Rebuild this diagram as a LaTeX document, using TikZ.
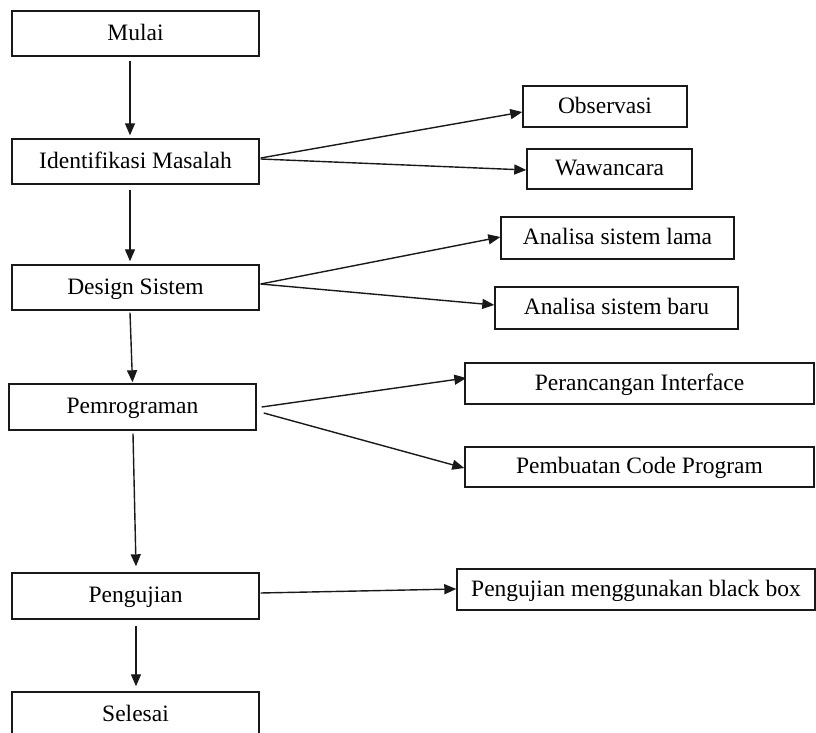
\documentclass[tikz,border=0pt]{standalone}
\usepackage{fontspec}
\setmainfont{Liberation Serif}
\usetikzlibrary{arrows.meta,calc}
\begin{document}
\begin{tikzpicture}[x=0.5pt,y=-0.5pt,
  box/.style={draw=black!90,line width=0.7pt,inner sep=0pt,
    text height=8pt,text depth=1.2pt,
    font=\fontsize{11.75pt}{14pt}\selectfont},
  sz/.style 2 args={minimum width=#1*0.5pt,minimum height=#2*0.5pt},
  arr/.style={draw=black!90,line width=0.7pt,-{Triangle[length=6pt,width=5pt]}}]
\clip (0,0) rectangle (816,733);

% main flow
\node[box,sz={247}{45}] (mulai)   at (135.5,33.5)  {Mulai};
\node[box,sz={247}{45}] (ident)   at (135.5,161.5) {Identifikasi Masalah};
\node[box,sz={247}{45}] (design)  at (135.5,287.5) {Design Sistem};
\node[box,sz={247}{46}] (pemrog)  at (132.5,407)   {Pemrograman};
\node[box,sz={247}{46}] (penguj)  at (135.5,596)   {Pengujian};
\node[box,sz={247}{45}] (selesai) at (135.5,714.5) {Selesai};

% side activities
\node[box,sz={164}{41}] (obs)     at (605,106.5)   {Observasi};
\node[box,sz={165}{40}] (waw)     at (609.5,169)   {Wawancara};
\node[box,sz={233}{42}] (lama)    at (617.5,238)   {Analisa sistem lama};
\node[box,sz={243}{42}] (baru)    at (616.5,308)   {Analisa sistem baru};
\node[box,sz={349}{41}] (peranc)  at (639.5,383.5) {Perancangan Interface};
\node[box,sz={349}{40}] (pembuat) at (639.5,467)   {Pembuatan Code Program};
\node[box,sz={358}{41}] (bbox)    at (636,589.5)   {Pengujian menggunakan black box};

% vertical flow arrows
\draw[arr] ($(mulai.south)+(-5.5,4)$) -- ($(ident.north)+(-5.5,-3)$);
\draw[arr] ($(ident.south)+(-5.5,5)$) -- ($(design.north)+(-5.5,-3)$);
\draw[arr] ($(design.south)+(-5.5,2)$) -- ($(pemrog.north)+(0,-1)$);
\draw[arr] ($(pemrog.south)+(0.5,3)$) -- ($(penguj.north)+(0.5,-6)$);
\draw[arr] ($(penguj.south)+(0.5,6)$) -- ($(selesai.north)+(0.5,-5)$);

% branches to side activities
\draw[arr] ($(ident.east)+(1,-3.5)$) -- ($(obs.west)+(0,5.5)$);
\draw[arr] ($(ident.east)+(1,-2.5)$) -- ($(waw.west)+(0,1)$);
\draw[arr] ($(design.east)+(1,-3.5)$) -- ($(lama.west)+(0,-1)$);
\draw[arr] ($(design.east)+(1,-3.5)$) -- ($(baru.west)+(0,-3)$);
\draw[arr] ($(pemrog.east)+(5,0)$) -- ($(peranc.west)+(2,-5.5)$);
\draw[arr] ($(pemrog.east)+(7,6)$) -- ($(pembuat.west)+(0,1)$);
\draw[arr] ($(penguj.east)+(1,-3)$) -- ($(bbox.west)+(0,-0.5)$);
\end{tikzpicture}
\end{document}
